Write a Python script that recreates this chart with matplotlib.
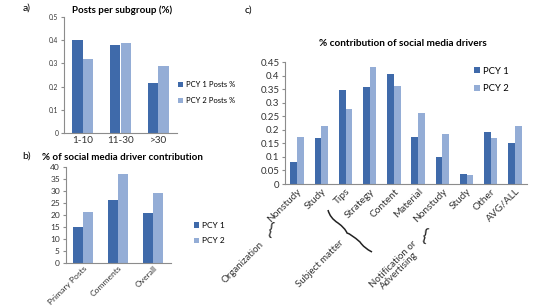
import matplotlib
matplotlib.use("Agg")
import matplotlib.pyplot as plt
import numpy as np
from matplotlib.path import Path
from matplotlib.patches import PathPatch

plt.rcParams['font.family'] = ['Lato', 'DejaVu Sans']

DARK = '#3F6AAA'
LIGHT = '#94ADD6'
AXC = '#8C8C8C'
TXT = '#333333'

# Panel a
a_cats = ['1-10', '11-30', '>30']
a_pcy1 = [0.40, 0.38, 0.215]
a_pcy2 = [0.32, 0.388, 0.29]
a_yticks = [0, 0.1, 0.2, 0.3, 0.4, 0.5]

# Panel b
b_cats = ['Primary Posts', 'Comments', 'Overall']
b_pcy1 = [15, 26.2, 21]
b_pcy2 = [21.2, 37, 29.2]
b_yticks = [0, 5, 10, 15, 20, 25, 30, 35, 40]

# Panel c
c_cats = ['Nonstudy', 'Study', 'Tips', 'Strategy', 'Content', 'Material',
          'Nonstudy', 'Study', 'Other', 'AVG/ALL']
c_pcy1 = [0.08, 0.17, 0.345, 0.357, 0.407, 0.173, 0.10, 0.038, 0.19, 0.153]
c_pcy2 = [0.175, 0.215, 0.275, 0.43, 0.362, 0.262, 0.184, 0.035, 0.171, 0.215]
c_yticks = [0, 0.05, 0.1, 0.15, 0.2, 0.25, 0.3, 0.35, 0.4, 0.45]

W, H = 556, 307
fig = plt.figure(figsize=(W/100, H/100), dpi=100)

def fx(px): return px / W
def fy(py): return 1 - py / H

def style(ax, fs):
    for s in ['top', 'right']:
        ax.spines[s].set_visible(False)
    for s in ['left', 'bottom']:
        ax.spines[s].set_color(AXC)
        ax.spines[s].set_linewidth(0.8)
    ax.tick_params(axis='y', length=2, color=AXC, labelsize=fs, pad=2, labelcolor=TXT)
    ax.tick_params(axis='x', length=0, pad=2, labelcolor=TXT)

def bars(ax, cats, s1, s2, w):
    x = np.arange(len(cats))
    b1 = ax.bar(x - w/2, s1, w, color=DARK)
    b2 = ax.bar(x + w/2, s2, w, color=LIGHT)
    ax.set_xlim(-0.5, len(cats) - 0.5)
    ax.set_xticks(x)
    return b1, b2

# a
axa = fig.add_axes([fx(64), fy(133), fx(177) - fx(64), fy(17) - fy(133)])
h1, h2 = bars(axa, a_cats, a_pcy1, a_pcy2, 0.28)
axa.set_ylim(0, 0.5)
axa.set_yticks(a_yticks)
axa.set_yticklabels(['0', '0.1', '0.2', '0.3', '0.4', '0.5'])
axa.set_xticklabels(a_cats, fontsize=7.2)
style(axa, 4.8)
fig.text(fx(122), fy(10), 'Posts per subgroup (%)', ha='center', va='center',
         fontsize=7, fontweight='bold')
fig.text(fx(27), fy(8), 'a)', ha='center', va='center', fontsize=7.5)
fig.legend([h1, h2], ['PCY 1 Posts %', 'PCY 2 Posts %'], loc='center left',
           bbox_to_anchor=(fx(178), fy(92.5)), frameon=False, fontsize=5.5,
           handlelength=0.6, handleheight=0.6, handletextpad=0.4, labelspacing=1.2,
           borderpad=0, borderaxespad=0)

# b
axb = fig.add_axes([fx(65.5), fy(263), fx(170.5) - fx(65.5), fy(167) - fy(263)])
h1, h2 = bars(axb, b_cats, b_pcy1, b_pcy2, 0.29)
axb.set_ylim(0, 40)
axb.set_yticks(b_yticks)
axb.set_xticklabels(b_cats, fontsize=6.1, rotation=45, ha='right', rotation_mode='anchor')
style(axb, 6)
axb.tick_params(axis='x', pad=1)
fig.text(fx(122), fy(158), '% of social media driver contribution', ha='center', va='center',
         fontsize=7, fontweight='bold')
fig.text(fx(27), fy(156), 'b)', ha='center', va='center', fontsize=7.5)
fig.legend([h1, h2], ['PCY 1', 'PCY 2'], loc='center left',
           bbox_to_anchor=(fx(194), fy(233)), frameon=False, fontsize=6,
           handlelength=0.6, handleheight=0.6, handletextpad=0.4, labelspacing=1.0,
           borderpad=0, borderaxespad=0)

# c
axc = fig.add_axes([fx(285), fy(184), fx(527) - fx(285), fy(62) - fy(184)])
h1, h2 = bars(axc, c_cats, c_pcy1, c_pcy2, 0.28)
axc.set_ylim(0, 0.45)
axc.set_yticks(c_yticks)
axc.set_yticklabels(['0', '0.05', '0.1', '0.15', '0.2', '0.25', '0.3', '0.35', '0.4', '0.45'])
axc.set_xticklabels(c_cats, fontsize=7.3, rotation=45, ha='right', rotation_mode='anchor')
style(axc, 7)
fig.text(fx(403), fy(43), '% contribution of social media drivers', ha='center', va='center',
         fontsize=7.2, fontweight='bold')
fig.text(fx(248), fy(10), 'c)', ha='center', va='center', fontsize=7.5)
fig.legend([h1, h2], ['PCY 1', 'PCY 2'], loc='center left',
           bbox_to_anchor=(fx(474), fy(80)), frameon=False, fontsize=6.8,
           handlelength=0.6, handleheight=0.6, handletextpad=0.4, labelspacing=0.9,
           borderpad=0, borderaxespad=0)

# group labels
fig.text(fx(243), fy(262), 'Organization', rotation=45, ha='center', va='center', fontsize=7,
         color=TXT)
fig.text(fx(320), fy(264), 'Subject matter', rotation=45, ha='center', va='center', fontsize=7,
         color=TXT)
fig.text(fx(396), fy(267), 'Notification or\nAdvertising', rotation=45, ha='center', va='center',
         fontsize=7, color=TXT, linespacing=1.0, multialignment='center')
fig.text(fx(270), fy(230), '{', ha='center', va='center', fontsize=12, color='#222222',
         rotation=-12)
fig.text(fx(424), fy(236), '{', ha='center', va='center', fontsize=12.5, color='#222222',
         rotation=-12)

# large brace for Subject matter
verts = [(fx(x), fy(y)) for x, y in [(328, 210), (330, 218), (338, 223), (345, 228),
                                     (347, 233), (351, 234), (360, 242), (364, 248), (372, 252)]]
codes = [Path.MOVETO, Path.CURVE3, Path.CURVE3, Path.CURVE3, Path.CURVE3,
         Path.CURVE3, Path.CURVE3, Path.CURVE3, Path.CURVE3]
patch = PathPatch(Path(verts, codes), transform=fig.transFigure, fill=False,
                  edgecolor='#222222', linewidth=1.1)
fig.add_artist(patch)

fig.savefig('out.png', dpi=100)
